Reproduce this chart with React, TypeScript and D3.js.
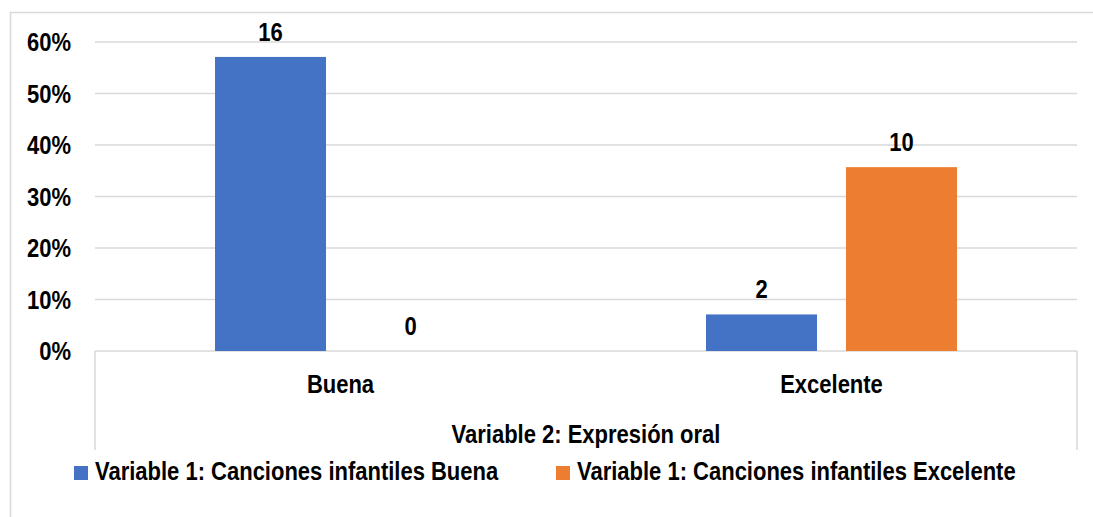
import { useEffect, useRef } from "react"
import * as d3 from "d3"

const categories = ["Buena", "Excelente"]
const series = ["Variable 1: Canciones infantiles Buena", "Variable 1: Canciones infantiles Excelente"]
const colors = ["#4472c4", "#ed7d31"]
// percentage per category, per series
const percents = [
  [0.571, 0],
  [0.071, 0.357],
]
// counts shown above the bars
const counts = [
  [16, 0],
  [2, 10],
]
const yTicks = [0, 0.1, 0.2, 0.3, 0.4, 0.5, 0.6]
const xTitle = "Variable 2: Expresión oral"

const W = 1093
const H = 517
const FONT = "'Liberation Sans', Arial, sans-serif"
const FS = 25
const SX = 0.88 // narrow face isn't installed, squeeze the regular bold instead

const at = (x: number, y: number) => `translate(${x},${y}) scale(${SX},1)`

export default function App() {
  const ref = useRef<SVGSVGElement>(null)

  useEffect(() => {
    document.body.style.margin = "0"
    const svg = d3.select(ref.current)
    svg.selectAll("*").remove()

    const left = 95, right = 1077, top = 42, bottom = 351

    svg.append("rect").attr("width", W).attr("height", H).attr("fill", "#fff")
    // chart frame
    svg.append("path")
      .attr("d", `M10.5,${H}V12.5H${W}`)
      .attr("fill", "none")
      .attr("stroke", "#d9d9d9")
      .attr("stroke-width", 1.5)

    const y = d3.scaleLinear().domain([0, 0.6]).range([bottom, top])
    const x0 = d3.scaleBand().domain(categories).range([left, right])
    const groupPad = 120
    const x1 = d3.scaleBand<number>()
      .domain(series.map((_, i) => i))
      .range([groupPad, x0.bandwidth() - groupPad])
      .paddingInner(0.207)

    const g = svg.append("g")
      .attr("font-family", FONT)
      .attr("font-weight", "bold")
      .attr("font-size", FS)
      .attr("fill", "#000")

    // gridlines
    g.append("g").selectAll("line").data(yTicks).enter().append("line")
      .attr("x1", left).attr("x2", right)
      .attr("y1", (d) => y(d)).attr("y2", (d) => y(d))
      .attr("stroke", "#d9d9d9").attr("stroke-width", 1.5)

    // y tick labels
    g.append("g").selectAll("text").data(yTicks).enter().append("text")
      .attr("transform", (d) => at(71, y(d) + 9))
      .attr("text-anchor", "end")
      .text((d) => d3.format(".0%")(d))

    // dividers below axis
    g.append("g").selectAll("line").data([left, right]).enter().append("line")
      .attr("x1", (d) => d).attr("x2", (d) => d)
      .attr("y1", bottom).attr("y2", 450)
      .attr("stroke", "#d9d9d9").attr("stroke-width", 1.5)

    // bars
    const groups = g.append("g").selectAll("g").data(categories).enter().append("g")
      .attr("transform", (d) => `translate(${x0(d)},0)`)

    const rows = (_: string, ci: number) =>
      percents[ci].map((v, si) => ({ v, si, c: counts[ci][si] }))

    groups.selectAll("rect").data(rows).enter().append("rect")
      .attr("x", (d) => x1(d.si)!)
      .attr("width", x1.bandwidth())
      .attr("y", (d) => y(d.v))
      .attr("height", (d) => bottom - y(d.v))
      .attr("fill", (d) => colors[d.si])

    groups.selectAll("text").data(rows).enter().append("text")
      .attr("transform", (d) => at(x1(d.si)! + x1.bandwidth() / 2, y(d.v) - 16))
      .attr("text-anchor", "middle")
      .text((d) => d.c)

    // category labels
    g.append("g").selectAll("text").data(categories).enter().append("text")
      .attr("transform", (d) => at(x0(d)! + x0.bandwidth() / 2, 393))
      .attr("text-anchor", "middle")
      .text((d) => d)

    g.append("text")
      .attr("transform", at((left + right) / 2, 443))
      .attr("text-anchor", "middle")
      .text(xTitle)

    // legend
    const legendX = [74, 556]
    const leg = g.append("g").selectAll("g").data(series).enter().append("g")
      .attr("transform", (_, i) => `translate(${legendX[i]},466)`)
    leg.append("rect").attr("width", 14).attr("height", 14).attr("fill", (_, i) => colors[i])
    leg.append("text").attr("transform", at(21, 14)).text((d) => d)
  }, [])

  return <svg ref={ref} width={W} height={H} style={{ display: "block" }} />
}
